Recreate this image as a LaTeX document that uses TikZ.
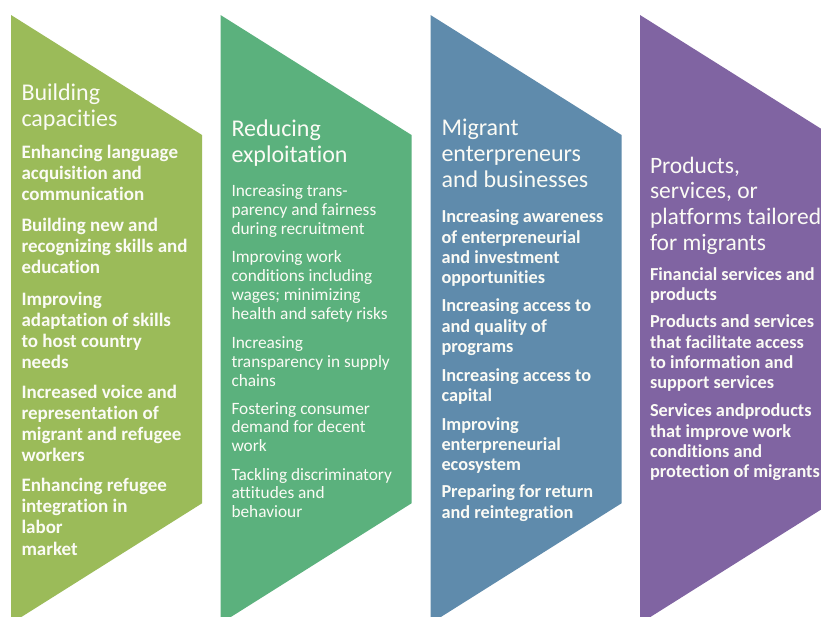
\documentclass[tikz,border=0pt]{standalone}
\usepackage{fontspec}
\setmainfont{Carlito}[Ligatures=NoCommon]
\definecolor{colA}{HTML}{9BBB59}
\definecolor{colB}{HTML}{5BB17D}
\definecolor{colC}{HTML}{5F8BAC}
\definecolor{colD}{HTML}{8064A2}
\definecolor{txtcol}{HTML}{FBFBF5}
\newcommand{\ptext}[1]{\parbox[t]{200pt}{\raggedright #1}}
\tikzset{
  txt/.style={inner sep=0pt, outer sep=0pt, anchor=base west, text=txtcol},
  headA/.style={txt, font=\fontsize{24}{26}\selectfont},
  headD/.style={txt, font=\fontsize{23.5}{25.6}\selectfont},
  bodyA/.style={txt, font=\fontsize{19}{21.1}\selectfont\bfseries},
  bodyB/.style={txt, font=\fontsize{17.3}{18.9}\selectfont},
  bodyC/.style={txt, font=\fontsize{18.3}{20.3}\selectfont\bfseries},
}
\begin{document}
\begin{tikzpicture}[x=1pt,y=-1pt]
\useasboundingbox (0,0) rectangle (821,616);
\clip (0,0) rectangle (821,616);
\fill[white] (0,0) rectangle (821,616);
% chevrons
\foreach \L/\c in {11/colA, 220.5/colB, 430.5/colC, 640/colD}{
  \fill[\c] (\L,15) -- (\L+191,135) -- (\L+191,503.3) -- (\L,623.5) -- cycle;
}
% column 1
\node[headA] (h1) at (21.5,100) {\ptext{Building\\capacities}};
\node[bodyA] (a1) at (21.5,158.3) {\ptext{Enhancing language\\acquisition and\\communication}};
\node[bodyA] (a2) at (21.5,231.7) {\ptext{Building new and\\recognizing skills and\\education}};
\node[bodyA] (a3) at (21.5,305) {\ptext{Improving\\adaptation of skills\\to host country\\needs}};
\node[bodyA] (a4) at (21.5,398.3) {\ptext{Increased voice and\\representation of\\migrant and refugee\\workers}};
\node[bodyA] (a5) at (21.5,491.7) {\ptext{Enhancing refugee\\integration in\\labor\\market}};
% column 2
\node[headA] (h2) at (231.5,136.7) {\ptext{Reducing\\exploitation}};
\node[bodyB] (b1) at (231.5,196.7) {\ptext{Increasing trans-\\parency and fairness\\during recruitment}};
\node[bodyB] (b2) at (231.5,262.3) {\ptext{Improving work\\conditions including\\wages; minimizing\\health and safety risks}};
\node[bodyB] (b3) at (231.5,348.3) {\ptext{Increasing\\transparency in supply\\chains}};
\node[bodyB] (b4) at (231.5,414) {\ptext{Fostering consumer\\demand for decent\\work}};
\node[bodyB] (b5) at (231.5,480) {\ptext{Tackling discriminatory\\attitudes and\\behaviour}};
% column 3
\node[headA] (h3) at (441.5,135.7) {\ptext{Migrant\\enterpreneurs\\and businesses}};
\node[bodyC] (c1) at (441.5,222.7) {\ptext{Increasing awareness\\of enterpreneurial\\and investment\\opportunities}};
\node[bodyC] (c2) at (441.5,311.7) {\ptext{Increasing access to\\and quality of\\programs}};
\node[bodyC] (c3) at (441.5,381) {\ptext{Increasing access to\\capital}};
\node[bodyC] (c4) at (441.5,430) {\ptext{Improving\\enterpreneurial\\ecosystem}};
\node[bodyC] (c5) at (441.5,497.7) {\ptext{Preparing for return\\and reintegration}};
% column 4
\node[headD] (h4) at (650,173.3) {\ptext{Products,\\services, or\\platforms tailored\\for migrants}};
\node[bodyC] (d1) at (650,280) {\ptext{Financial services and\\products}};
\node[bodyC] (d2) at (650,327.7) {\ptext{Products and services\\that facilitate access\\to information and\\support services}};
\node[bodyC] (d3) at (650,416.7) {\ptext{Services andproducts\\that improve work\\conditions and\\protection of migrants}};
\end{tikzpicture}
\end{document}
